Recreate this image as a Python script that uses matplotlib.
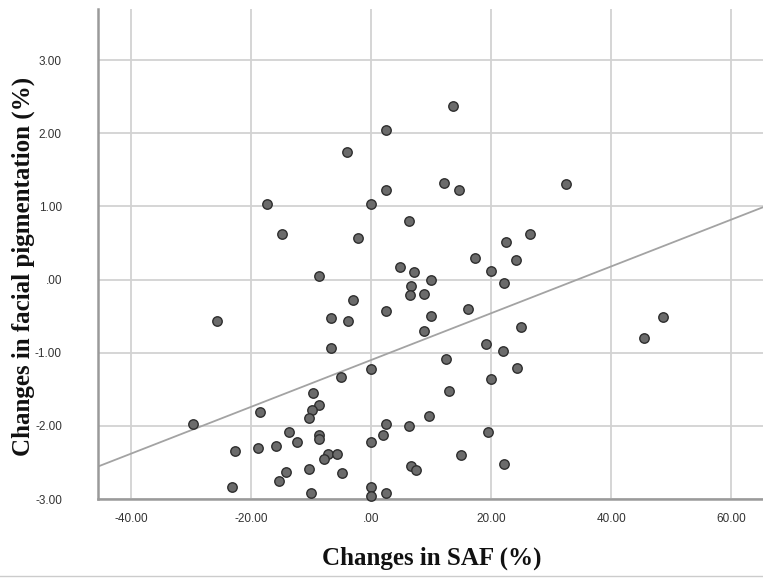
import matplotlib
matplotlib.use("Agg")
import matplotlib.pyplot as plt
from matplotlib.lines import Line2D

# Data: change in SAF (%) vs change in facial pigmentation (%)
saf = [2.45, -4.0, 2.45, -17.4, 0.0, -14.9, -2.1,
       13.6, 12.1, 14.6, 32.5, 6.4, 26.5, 22.5,
       -8.6, -3.0, 2.55, -6.7, -3.9, -25.6, -6.7, 0.0, -5.0, -9.7,
       -8.7, -9.8, -10.4, -18.5, -29.7, 2.55, -13.6, -8.6, -8.6, 2.05,
       -12.4, 0.0, -22.7, -18.9, -15.8, -7.1, -5.7, -7.9, -14.2, -10.4,
       -4.8, -15.4, -23.1, -10.0, 0.0, 0.0, 2.45,
       17.3, 24.2, 4.8, 7.1, 20.05, 10.0, 22.2, 6.7, 6.55, 8.8,
       16.1, 10.0, 8.8, 25.05, 48.7, 45.4, 19.2, 22.0, 12.55, 24.3,
       20.05, 12.9, 9.7, 6.4, 19.55, 15.0, 22.2, 6.7, 7.55]
pig = [2.04, 1.75, 1.22, 1.03, 1.03, 0.62, 0.57,
       2.37, 1.32, 1.22, 1.31, 0.80, 0.63, 0.51,
       0.055, -0.28, -0.43, -0.52, -0.57, -0.56, -0.94, -1.22, -1.33, -1.55,
       -1.72, -1.78, -1.89, -1.81, -1.97, -1.98, -2.09, -2.13, -2.18, -2.12,
       -2.22, -2.22, -2.34, -2.30, -2.27, -2.38, -2.38, -2.45, -2.63, -2.59,
       -2.64, -2.76, -2.84, -2.92, -2.84, -2.96, -2.92,
       0.29, 0.27, 0.17, 0.10, 0.12, -0.005, -0.04, -0.09, -0.21, -0.20,
       -0.40, -0.50, -0.70, -0.65, -0.51, -0.80, -0.88, -0.98, -1.08, -1.21,
       -1.36, -1.53, -1.86, -2.00, -2.09, -2.40, -2.52, -2.55, -2.60]

fit_intercept = -1.10
fit_slope = 0.032

xticks = [-40, -20, 0, 20, 40, 60]
xticklabels = ["-40.00", "-20.00", ".00", "20.00", "40.00", "60.00"]
yticks = [-3, -2, -1, 0, 1, 2, 3]
yticklabels = ["-3.00", "-2.00", "-1.00", ".00", "1.00", "2.00", "3.00"]

fig = plt.figure(figsize=(7.63, 5.80), dpi=100)
ax = fig.add_axes([98 / 763, 81 / 580, 665 / 763, 490 / 580])
xmin, xmax = -45.5, 65.3
ax.set_xlim(xmin, xmax)
ax.set_ylim(-3.0, 3.7)

ax.set_xticks(xticks)
ax.set_xticklabels(xticklabels)
ax.set_yticks(yticks)
ax.set_yticklabels(yticklabels)
ax.tick_params(axis="both", length=0, labelsize=8.5, labelcolor="#333333",
               labelfontfamily="Liberation Sans")
ax.tick_params(axis="x", pad=10)
ax.tick_params(axis="y", pad=26)

ax.grid(True, color="#d2d2d2", linewidth=1.3)
ax.set_axisbelow(True)

for s in ["top", "right"]:
    ax.spines[s].set_visible(False)
for s in ["left", "bottom"]:
    ax.spines[s].set_color("#9a9a9a")
    ax.spines[s].set_linewidth(1.8)

# regression line
ax.plot([xmin, xmax], [fit_intercept + fit_slope * xmin, fit_intercept + fit_slope * xmax],
        color="#a3a3a3", linewidth=1.3, zorder=2)

ax.plot(saf, pig, linestyle="none", marker="o", markersize=6.8,
        markerfacecolor="#6b6b6b", markeredgecolor="#2e2e2e", markeredgewidth=1.0,
        zorder=3, clip_on=False)

fig.text(432 / 763, 1 - 558 / 580, "Changes in SAF (%)", ha="center", va="center",
         fontsize=18, fontweight="bold", family="Liberation Serif", color="#111111")
fig.text(23 / 763, 1 - 266 / 580, "Changes in facial pigmentation (%)", ha="center",
         va="center", rotation=90, fontsize=18, fontweight="bold",
         family="Liberation Serif", color="#111111")

fig.add_artist(Line2D([0, 1], [1 - 576 / 580, 1 - 576 / 580], transform=fig.transFigure,
                      color="#cccccc", linewidth=1.0))

fig.savefig("out.png", dpi=100)
